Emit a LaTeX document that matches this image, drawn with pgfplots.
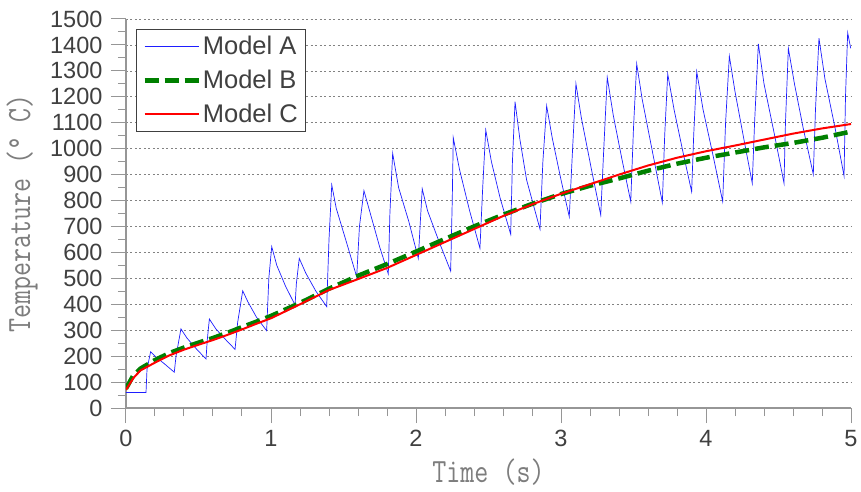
\documentclass[border=0pt]{standalone}
\usepackage{pgfplots}
\pgfplotsset{compat=1.18}
\usepackage{graphicx}
\usepackage{fontspec}
\setmainfont{Liberation Sans}
\definecolor{axgray}{RGB}{150,150,150}
\definecolor{tickgray}{RGB}{64,64,64}
\definecolor{labgray}{RGB}{125,125,125}
\definecolor{gridgray}{RGB}{130,130,130}
\definecolor{mblue}{RGB}{30,30,255}
\definecolor{mgreen}{RGB}{0,128,0}
\definecolor{mred}{RGB}{255,0,0}
\newcommand{\lab}[1]{\scalebox{0.8}[1]{\ttfamily\fontsize{34}{38}\selectfont\color{labgray}#1}}
\begin{document}
\begin{tikzpicture}
\begin{axis}[
  name=ax,
  scale only axis,
  width=725pt, height=389pt,
  xmin=0, xmax=5, ymin=0, ymax=1500,
  axis x line*=bottom, axis y line*=left,
  axis line style={axgray, line width=1.3pt, -},
  xtick={0,1,2,3,4,5}, minor x tick num=4,
  ytick={0,100,...,1500}, minor y tick num=1,
  tick align=outside,
  major tick length=15pt, minor tick length=8pt,
  every tick/.style={axgray, line width=1pt},
  ymajorgrids,
  major grid style={gridgray, line width=0.6pt, dash pattern=on 2pt off 2.5pt},
  /pgf/number format/assume math mode=true,
  /pgf/number format/1000 sep={},
  tick label style={font=\fontsize{23.5}{26}\selectfont, text=tickgray},
  yticklabel style={xshift=-5pt},
  xticklabel style={yshift=-4pt},
  every axis y label/.style={at={(axis description cs:-0.1434,0.5)}, rotate=90, anchor=center},
  every axis x label/.style={at={(axis description cs:0.5,-0.165)}, anchor=center},
  xlabel={\lab{Time (s)}},
  ylabel={\lab{Temperature (° C)}},
  legend cell align=left,
  legend style={at={(axis description cs:0,1)}, anchor=north west, xshift=10pt, yshift=-10pt,
    draw=tickgray, line width=0.8pt, fill=white, font=\fontsize{25.5}{27}\selectfont, text=tickgray,
    inner xsep=6pt, inner ysep=5pt, row sep=10pt},
  legend image code/.code={\draw[#1] (0pt,0pt) -- (54pt,0pt);},
]
\addplot[mblue, line width=0.7pt] coordinates {
(0,60) (0.138,60) (0.145,150) (0.17,217) (0.20,200) (0.27,168) (0.333,138)
(0.345,200) (0.379,305) (0.42,270) (0.49,225) (0.552,189)
(0.56,260) (0.575,343) (0.62,305) (0.69,262) (0.752,226)
(0.77,330) (0.805,452) (0.84,410) (0.90,350) (0.970,298)
(0.985,500) (1.005,622) (1.04,550) (1.10,470) (1.166,397)
(1.175,480) (1.195,577) (1.24,520) (1.31,450) (1.384,391)
(1.40,650) (1.419,860) (1.45,770) (1.52,640) (1.591,506)
(1.61,700) (1.641,838) (1.68,760) (1.75,620) (1.809,517)
(1.82,750) (1.839,982) (1.88,850) (1.95,720) (2.016,577)
(2.03,720) (2.043,845) (2.08,760) (2.16,640) (2.239,528)
(2.25,800) (2.257,1042) (2.30,920) (2.37,760) (2.441,616)
(2.46,850) (2.481,1072) (2.52,950) (2.58,810) (2.653,670)
(2.665,950) (2.683,1181) (2.717,1034) (2.763,879) (2.855,690)
(2.875,950) (2.901,1165) (2.94,1040) (3.00,880) (3.057,738)
(3.08,1000) (3.103,1250) (3.14,1120) (3.21,920) (3.274,744)
(3.295,1000) (3.319,1275) (3.36,1130) (3.42,960) (3.481,796)
(3.50,1080) (3.522,1327) (3.56,1190) (3.63,990) (3.699,792)
(3.715,1050) (3.736,1288) (3.78,1150) (3.84,990) (3.901,834)
(3.915,1050) (3.936,1297) (3.98,1150) (4.05,970) (4.115,796)
(4.135,1100) (4.161,1357) (4.20,1220) (4.26,1040) (4.319,867)
(4.335,1100) (4.361,1404) (4.40,1250) (4.47,1060) (4.538,867)
(4.548,1100) (4.568,1387) (4.61,1250) (4.67,1080) (4.740,901)
(4.755,1150) (4.779,1426) (4.82,1270) (4.89,1080) (4.952,895)
(4.962,1200) (4.977,1447) (4.998,1387)
};
\addlegendentry{Model A}
\addplot[mgreen, line width=4.5pt, dash pattern=on 14pt off 6pt] coordinates {
(0,75) (0.05,125) (0.1,152) (0.2,185) (0.3,212) (0.4,233) (0.5,252) (0.6,270)
(0.7,290) (0.8,312) (0.9,333) (1.0,355) (1.2,405) (1.4,460) (1.6,510) (1.8,555)
(2.0,603) (2.2,652) (2.4,700) (2.6,745) (2.8,787) (3.0,825) (3.2,857) (3.4,885)
(3.6,915) (3.8,942) (4.0,965) (4.2,985) (4.4,1005) (4.6,1022) (4.8,1042) (5.0,1066)
};
\addlegendentry{Model B}
\addplot[mred, line width=2pt] coordinates {
(0,70) (0.05,115) (0.1,145) (0.2,175) (0.3,203) (0.4,225) (0.5,244) (0.6,262)
(0.7,282) (0.8,303) (0.9,325) (1.0,346) (1.2,400) (1.4,455) (1.6,497) (1.8,540)
(2.0,590) (2.2,640) (2.4,690) (2.6,740) (2.8,785) (3.0,826) (3.2,863) (3.4,900)
(3.6,935) (3.8,965) (4.0,990) (4.2,1012) (4.4,1035) (4.6,1058) (4.8,1078) (5.0,1095)
};
\addlegendentry{Model C}
\end{axis}
\pgfresetboundingbox
\path[use as bounding box] ([shift={(-126pt,-84pt)}]ax.south west) rectangle ([shift={(10pt,19pt)}]ax.north east);
\end{tikzpicture}
\end{document}
